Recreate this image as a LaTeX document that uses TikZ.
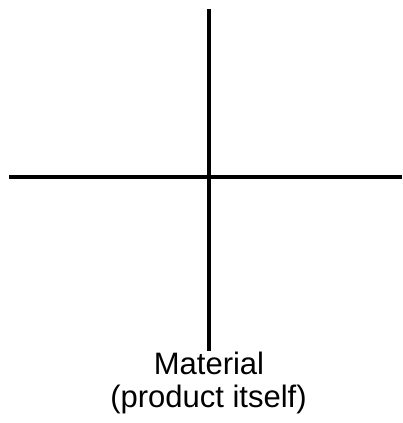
\documentclass[tikz,border=0pt]{standalone}
\usepackage{fontspec}
\setmainfont{Liberation Sans}
\tikzset{
  axisline/.style={line width=3.6pt, black},
  lbl/.style={anchor=base, inner sep=0pt, font=\fontsize{31}{34}\selectfont}
}
\begin{document}
\begin{tikzpicture}[x=1pt,y=-1pt]
\useasboundingbox (0,0) rectangle (403,423);
\coordinate (top) at (209,9);
\coordinate (bot) at (209,351);
\coordinate (lft) at (9,177);
\coordinate (rgt) at (402,177);
\draw[axisline] (top) -- (bot);
\draw[axisline] (lft) -- (rgt);
\node[lbl] (mat) at (209,374) {Material};
\node[lbl] (prod) at (208.5,407.5) {(product itself)};
\end{tikzpicture}
\end{document}
